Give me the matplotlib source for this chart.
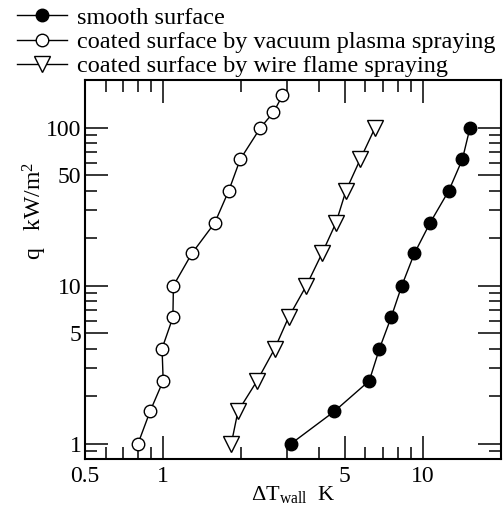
import numpy as np
import matplotlib
matplotlib.use("Agg")
import matplotlib.pyplot as plt
from matplotlib.ticker import FixedLocator, FixedFormatter, NullFormatter

plt.rcParams['font.family'] = ['Liberation Serif', 'DejaVu Serif']
plt.rcParams['mathtext.fontset'] = 'custom'
plt.rcParams['mathtext.rm'] = 'Liberation Serif'
plt.rcParams['mathtext.it'] = 'Liberation Serif:italic'

# heat flux q (kW/m2) vs wall superheat (K)
smooth_dT = [3.11, 4.56, 6.22, 6.81, 7.55, 8.30, 9.28, 10.67, 12.6, 14.2, 15.2]
smooth_q = [1.0, 1.6, 2.5, 4.0, 6.3, 10, 16, 25, 40, 63, 100]

vps_dT = [0.80, 0.89, 1.00, 0.99, 1.09, 1.095, 1.29, 1.58, 1.79, 1.98, 2.37, 2.66, 2.88]
vps_q = [1.0, 1.6, 2.5, 4.0, 6.3, 10, 16, 25, 40, 63, 100, 125, 160]

wfs_dT = [1.83, 1.94, 2.30, 2.69, 3.04, 3.56, 4.09, 4.63, 5.06, 5.74, 6.55]
wfs_q = [1.0, 1.6, 2.5, 4.0, 6.3, 10, 16, 25, 40, 63, 100]

labels = ['smooth surface',
          'coated surface by vacuum plasma spraying',
          'coated surface by wire flame spraying']

x_major = [0.5, 1, 5, 10]
x_minor = [0.6, 0.7, 0.8, 0.9, 2, 3, 4, 6, 7, 8, 9]
y_major = [1, 5, 10, 50, 100]
y_minor = [0.9, 2, 3, 4, 6, 7, 8, 9, 20, 30, 40, 60, 70, 80, 90]

fig = plt.figure(figsize=(5.04, 5.07), dpi=100)
ax = fig.add_axes([0.1687, 0.0947, 0.8253, 0.7473])

lw = 1.0
ax.plot(smooth_dT, smooth_q, '-o', color='black', mfc='black', mec='black',
        ms=9, lw=lw, label=labels[0])
ax.plot(vps_dT, vps_q, '-o', color='black', mfc='white', mec='black',
        ms=9, mew=1.0, lw=lw, label=labels[1])
ax.plot(wfs_dT, wfs_q, '-v', color='black', mfc='white', mec='black',
        ms=11, mew=1.0, lw=lw, label=labels[2])

ax.set_xscale('log')
ax.set_yscale('log')
ax.set_xlim(0.5, 20)
ax.set_ylim(0.8, 200)

ax.xaxis.set_major_locator(FixedLocator(x_major))
ax.xaxis.set_major_formatter(FixedFormatter([str(v) for v in x_major]))
ax.xaxis.set_minor_locator(FixedLocator(x_minor))
ax.xaxis.set_minor_formatter(NullFormatter())
ax.yaxis.set_major_locator(FixedLocator(y_major))
ax.yaxis.set_major_formatter(FixedFormatter([str(v) for v in y_major]))
ax.yaxis.set_minor_locator(FixedLocator(y_minor))
ax.yaxis.set_minor_formatter(NullFormatter())

ax.tick_params(which='both', direction='in', top=True, right=True,
               labelsize=17, width=1.1, color='black')
ax.tick_params(which='major', length=16.5)
ax.tick_params(which='minor', length=8.5)
ax.tick_params(axis='y', pad=2.5)
ax.tick_params(axis='x', pad=5)
for s in ax.spines.values():
    s.set_linewidth(1.5)

ax.set_xlabel('ΔT$_\\mathrm{wall}$  K', fontsize=16)
ax.xaxis.set_label_coords(0.5, -0.066)
ax.set_ylabel('q   kW/m$^2$', fontsize=17)
ax.yaxis.set_label_coords(-0.086, 0.655)

fig.legend(loc='upper left', bbox_to_anchor=(0.034, 0.987), frameon=False,
           fontsize=17.5, handlelength=2.05, handletextpad=0.4, labelspacing=0.1,
           borderpad=0, borderaxespad=0)

fig.savefig('out.png', dpi=100)
